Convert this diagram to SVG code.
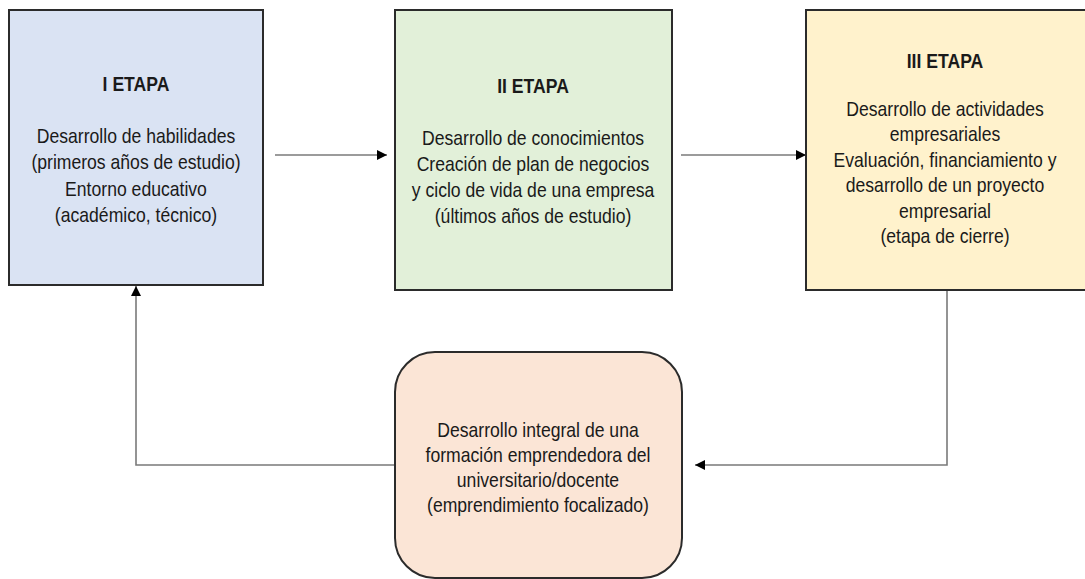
<svg xmlns="http://www.w3.org/2000/svg" width="1085" height="579" viewBox="0 0 1085 579">
<style>
.box{stroke:#2b2b2b;stroke-width:2}
.t{font-family:"Liberation Sans",Arial,sans-serif;font-size:20px;fill:#1a1a1a;text-anchor:middle}
.b{font-weight:bold}
.c{fill:none;stroke:#7a7a7a;stroke-width:1.6}
</style>
<defs>
<marker id="ah" viewBox="0 0 10 10" refX="10" refY="5" markerWidth="10" markerHeight="10" markerUnits="userSpaceOnUse" orient="auto">
<path d="M0,0 L10,5 L0,10 z" fill="#000"/>
</marker>
</defs>
<rect width="1085" height="579" fill="#fff"/>
<g id="connectors">
<line class="c" x1="275" y1="155" x2="387" y2="155" marker-end="url(#ah)"/>
<line class="c" x1="681" y1="155" x2="806" y2="155" marker-end="url(#ah)"/>
<polyline class="c" points="947,290 947,465 695,465" marker-end="url(#ah)"/>
<polyline class="c" points="395,465 136,465 136,286" marker-end="url(#ah)"/>
</g>
<g id="etapa1">
<rect class="box" x="9" y="10" width="254" height="275" fill="#dae3f3"/>
<g transform="translate(136,0) scale(0.88,1)">
<text class="t b" x="0" y="91">I ETAPA</text>
<text class="t" x="0" y="143">Desarrollo de habilidades</text>
<text class="t" x="0" y="169">(primeros años de estudio)</text>
<text class="t" x="0" y="196">Entorno educativo</text>
<text class="t" x="0" y="222">(académico, técnico)</text>
</g>
</g>
<g id="etapa2">
<rect class="box" x="395" y="10" width="277" height="280" fill="#e2f0d9"/>
<g transform="translate(533,0) scale(0.88,1)">
<text class="t b" x="0" y="93">II ETAPA</text>
<text class="t" x="0" y="145">Desarrollo de conocimientos</text>
<text class="t" x="0" y="171">Creación de plan de negocios</text>
<text class="t" x="0" y="197">y ciclo de vida de una empresa</text>
<text class="t" x="0" y="223">(últimos años de estudio)</text>
</g>
</g>
<g id="etapa3">
<rect class="box" x="806" y="10" width="300" height="280" fill="#fff2cc"/>
<g transform="translate(945,0) scale(0.88,1)">
<text class="t b" x="0" y="68">III ETAPA</text>
<text class="t" x="0" y="116">Desarrollo de actividades</text>
<text class="t" x="0" y="141">empresariales</text>
<text class="t" x="0" y="167">Evaluación, financiamiento y</text>
<text class="t" x="0" y="192">desarrollo de un proyecto</text>
<text class="t" x="0" y="218">empresarial</text>
<text class="t" x="0" y="243">(etapa de cierre)</text>
</g>
</g>
<g id="formacion">
<rect class="box" x="395" y="352" width="287" height="226" rx="40" ry="40" fill="#fbe5d6"/>
<g transform="translate(538,0) scale(0.88,1)">
<text class="t" x="0" y="437">Desarrollo integral de una</text>
<text class="t" x="0" y="462">formación emprendedora del</text>
<text class="t" x="0" y="487">universitario/docente</text>
<text class="t" x="0" y="512">(emprendimiento focalizado)</text>
</g>
</g>
</svg>
